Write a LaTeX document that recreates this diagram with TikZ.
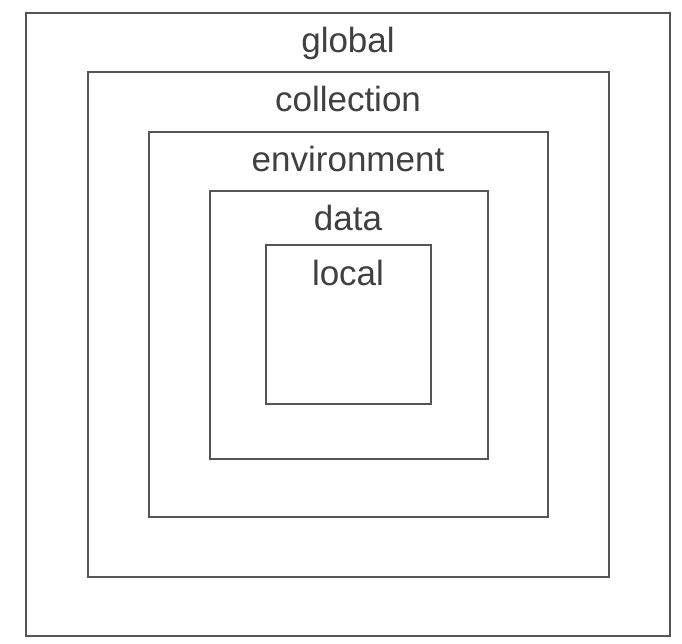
\documentclass[tikz,border=0pt]{standalone}
\usepackage{fontspec}
\setmainfont{Liberation Sans}
\definecolor{lineGray}{RGB}{85,85,85}
\definecolor{textGray}{RGB}{64,64,64}

\begin{document}
\begin{tikzpicture}[x=1pt, y=-1pt,
  scopebox/.style={draw=lineGray, line width=2pt},
  scopelabel/.style={anchor=base, text=textGray, inner sep=0pt, font=\fontsize{35}{35}\selectfont}]

% Page
\fill[white] (0,0) rectangle (682,644);
\useasboundingbox (0,0) rectangle (682,644);

% Nested scopes, outermost first, label 40px under the top edge
\foreach \name/\xa/\ya/\xb/\yb in {global/26/13/670/636, collection/88/72/609/577,
    environment/149/132/548/517, data/210/191/488/459, local/266/245/431/404} {
  \draw[scopebox] (\xa,\ya) rectangle (\xb,\yb);
  \node[scopelabel] (\name) at (348,\ya+40) {\name};
}

\end{tikzpicture}
\end{document}
